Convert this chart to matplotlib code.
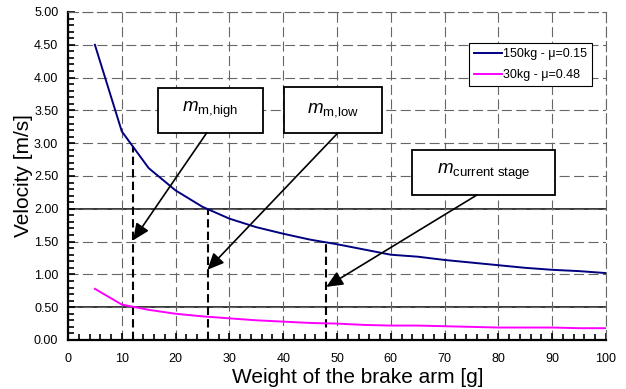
import numpy as np
import matplotlib
matplotlib.use("Agg")
import matplotlib.pyplot as plt
from matplotlib.patches import Rectangle
from matplotlib.ticker import MultipleLocator, FormatStrFormatter

plt.rcParams['font.family'] = ['Liberation Sans', 'DejaVu Sans']
plt.rcParams['mathtext.fontset'] = 'custom'
plt.rcParams['mathtext.rm'] = 'Liberation Sans'
plt.rcParams['mathtext.it'] = 'Liberation Sans:italic'

# brake arm weight [g]
weights = [5, 10, 15, 20, 25, 30, 35, 40, 45, 50,
           55, 60, 65, 70, 75, 80, 85, 90, 95, 100]
# velocity [m/s] for the two configurations
v_150kg = [4.50, 3.18, 2.62, 2.28, 2.03, 1.85, 1.72, 1.62, 1.53, 1.46,
           1.38, 1.30, 1.27, 1.22, 1.18, 1.14, 1.10, 1.07, 1.05, 1.02]
v_30kg = [0.78, 0.54, 0.46, 0.40, 0.36, 0.33, 0.30, 0.28, 0.26, 0.25,
          0.23, 0.22, 0.22, 0.21, 0.20, 0.19, 0.19, 0.19, 0.18, 0.18]
labels = ['150kg - μ=0.15', '30kg - μ=0.48']

# velocity limits and marked weights
v_limits = [0.5, 2.0]
mark_weights = [12, 26, 48]
mark_names = [r'$m_{\mathrm{m{,}high}}$', r'$m_{\mathrm{m{,}low}}$',
              r'$m_{\mathrm{current\ stage}}$']

# callout boxes (x0, x1, y0, y1), arrow start and arrow tip, in data units
boxes = [(16.7, 36.2, 3.16, 3.84), (40.1, 58.4, 3.16, 3.86), (63.9, 90.5, 2.21, 2.90)]
arrow_starts = [(25.8, 3.16), (50.2, 3.16), (76.0, 2.21)]
arrow_tips = [(12.1, 1.52), (25.9, 1.07), (48.0, 0.81)]

fig = plt.figure(figsize=(6.26, 3.89), dpi=100)
ax = fig.add_axes([68 / 626, 1 - 340 / 389, 538 / 626, 328 / 389])

ax.set_xlim(0, 100)
ax.set_ylim(0, 5)
ax.xaxis.set_major_locator(MultipleLocator(10))
ax.xaxis.set_minor_locator(MultipleLocator(2))
ax.yaxis.set_major_locator(MultipleLocator(0.5))
ax.yaxis.set_minor_locator(MultipleLocator(0.1))
ax.yaxis.set_major_formatter(FormatStrFormatter('%.2f'))

ax.grid(True, which='major', color='#666666', linewidth=0.8,
        linestyle=(0, (9, 4)), zorder=0)
for v in v_limits:
    ax.axhline(v, color='black', linewidth=1.1, zorder=1)

ax.plot(weights, v_150kg, color='#000080', linewidth=1.4, label=labels[0], zorder=3)
ax.plot(weights, v_30kg, color='#FF00FF', linewidth=1.4, label=labels[1], zorder=3)

# dashed drop lines from the 150kg curve down to the axis
for w in mark_weights:
    top = np.interp(w, weights, v_150kg)
    ax.plot([w, w], [0, top], color='black', linewidth=1.5,
            linestyle=(0, (4, 2)), zorder=2)

for (x0, x1, y0, y1), name, start, tip in zip(boxes, mark_names, arrow_starts, arrow_tips):
    ax.add_patch(Rectangle((x0, y0), x1 - x0, y1 - y0, facecolor='white',
                           edgecolor='black', linewidth=1.3, zorder=4))
    ax.text((x0 + x1) / 2, (y0 + y1) / 2, name, fontsize=13.5,
            ha='center', va='center', zorder=5)
    ax.annotate('', xy=tip, xytext=start, zorder=4,
                arrowprops=dict(arrowstyle='-|>,head_length=1.0,head_width=0.45',
                                mutation_scale=10, color='black', linewidth=1.2,
                                shrinkA=0, shrinkB=0))

for side in ['top', 'right']:
    ax.spines[side].set_color('#666666')
    ax.spines[side].set_linestyle((0, (9, 4)))
    ax.spines[side].set_linewidth(0.8)
for side in ['left', 'bottom']:
    ax.spines[side].set_linewidth(1.6)

ax.tick_params(which='both', direction='in', top=False, right=False,
               width=1.2, labelsize=9)
ax.tick_params(which='major', length=5)
ax.tick_params(which='minor', length=4)
ax.tick_params(axis='y', pad=7)
ax.tick_params(axis='x', pad=9)

ax.set_xlabel('Weight of the brake arm [g]', fontsize=15)
ax.xaxis.set_label_coords(0.538, -0.085)
ax.set_ylabel('Velocity [m/s]', fontsize=15, labelpad=1)

leg = ax.legend(loc='upper right', bbox_to_anchor=(0.974, 0.905), fontsize=9,
                frameon=True, fancybox=False, framealpha=1, edgecolor='black',
                handlelength=2.2, handletextpad=0.1, labelspacing=0.7,
                borderpad=0.4, borderaxespad=0)
leg.get_frame().set_linewidth(0.8)
leg.set_zorder(6)

fig.savefig('out.png', dpi=100)
